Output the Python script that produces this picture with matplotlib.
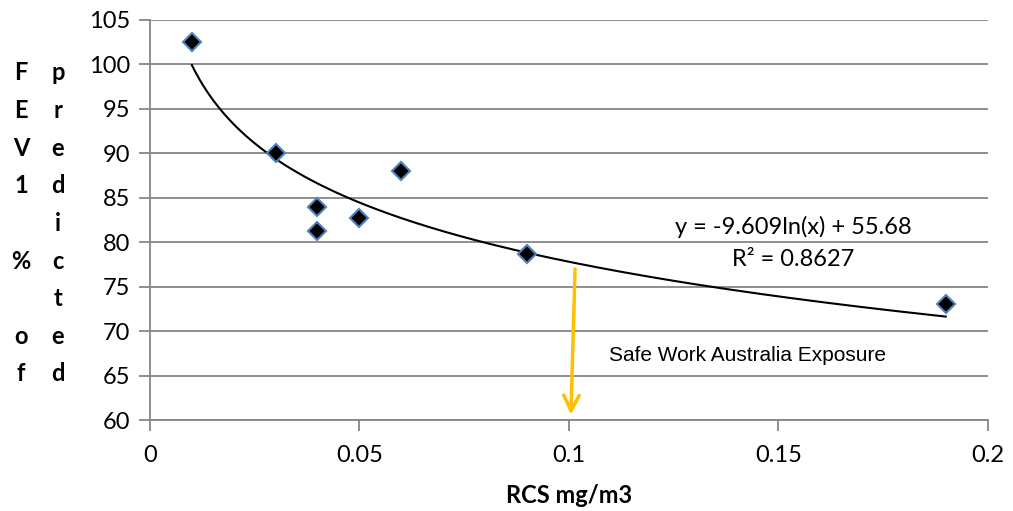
import numpy as np
import matplotlib
matplotlib.use('Agg')
import matplotlib.pyplot as plt

# RCS exposure (mg/m3) vs FEV1 % of predicted
rcs = [0.01, 0.03, 0.04, 0.04, 0.05, 0.06, 0.09, 0.19]
fev1 = [102.5, 90.0, 84.0, 81.3, 82.7, 88.0, 78.7, 73.0]

# log trendline y = a ln(x) + b
fit_a, fit_b, fit_r2 = -9.609, 55.68, 0.8627

# exposure standard marker
exposure_x = [0.1015, 0.1005]
exposure_y = [77.0, 60.6]
exposure_label = 'Safe Work Australia Exposure'

ylabel_cols = [['F', 'E', 'V', '1', '', '%', '', 'o', 'f'],
               ['p', 'r', 'e', 'd', 'i', 'c', 't', 'e', 'd']]

grey = '#868686'
font = 'Lato'
fs = 17

fig = plt.figure(figsize=(10.13, 5.11), dpi=100)
ax = fig.add_axes([0.148, 0.178, 0.827, 0.783])

ax.set_xlim(0, 0.2)
ax.set_ylim(60, 105)
ax.set_xticks([0, 0.05, 0.1, 0.15, 0.2])
ax.set_xticklabels(['0', '0.05', '0.1', '0.15', '0.2'])
ax.set_yticks(np.arange(60, 106, 5))

ax.grid(axis='y', color=grey, linewidth=1.3)
ax.set_axisbelow(True)
for side in ['top', 'right']:
    ax.spines[side].set_visible(False)
for side in ['left', 'bottom']:
    ax.spines[side].set_color(grey)
    ax.spines[side].set_linewidth(1.3)
ax.tick_params(direction='out', length=8, width=1.3, color=grey,
               labelsize=fs, pad=6)
ax.tick_params(axis='x', pad=10)
for lab in ax.get_xticklabels() + ax.get_yticklabels():
    lab.set_fontfamily(font)

xs = np.linspace(min(rcs), max(rcs), 200)
ax.plot(xs, fit_a * np.log(xs) + fit_b, color='black', linewidth=1.5, zorder=3)

ax.plot(rcs, fev1, linestyle='none', marker='D', markersize=9.5,
        markerfacecolor='black', markeredgecolor='#4F81BD',
        markeredgewidth=1.5, zorder=4, clip_on=False)

ax.annotate('', xy=(exposure_x[1], exposure_y[1]),
            xytext=(exposure_x[0], exposure_y[0]),
            arrowprops=dict(arrowstyle='->', color='#FFC000', lw=2.5,
                            mutation_scale=28, shrinkA=0, shrinkB=0))
ax.text(0.1427, 67.3, exposure_label, ha='center', va='center',
        fontsize=15, family='Liberation Sans')

ax.text(0.1535, 81.7, f'y = {fit_a}ln(x) + {fit_b}', ha='center',
        va='center', fontsize=fs, family=font)
ax.text(0.1535, 78.0, f'R² = {fit_r2}', ha='center', va='center',
        fontsize=fs, family=font)

ax.set_xlabel('RCS mg/m3', fontsize=fs, fontweight='bold', family=font,
              labelpad=13)

# stacked y-axis label, one character per row
col_x = [21, 58]
for cx, chars in zip(col_x, ylabel_cols):
    for i, ch in enumerate(chars):
        fig.text(cx / 1013, 1 - (73 + 37.6 * i) / 511, ch, ha='center',
                 va='center', fontsize=fs, fontweight='bold', family=font)

fig.savefig('out.png', dpi=100)
